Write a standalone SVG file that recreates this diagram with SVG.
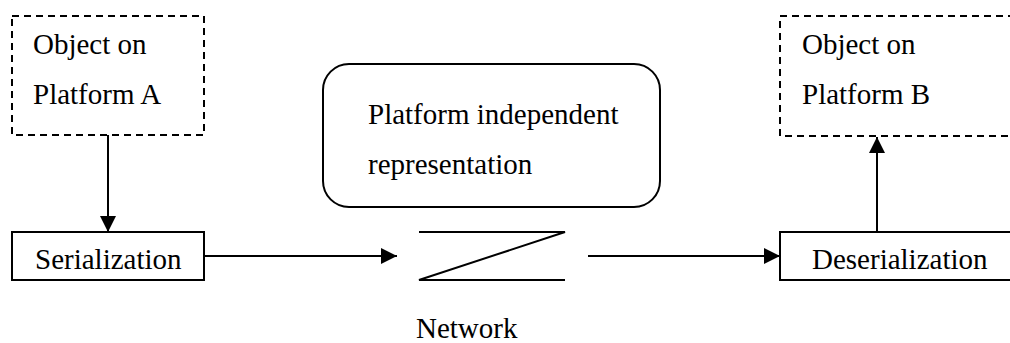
<svg xmlns="http://www.w3.org/2000/svg" width="1010" height="343" viewBox="0 0 1010 343">
<style>
.t{font-family:"Liberation Serif","Times New Roman",serif;font-size:29px;fill:#000}
.dash{fill:none;stroke:#000;stroke-width:2;stroke-dasharray:7,5}
.box{fill:#fff;stroke:#000;stroke-width:2}
.ln{fill:none;stroke:#000;stroke-width:2}
</style>
<defs>
<marker id="ah" viewBox="0 0 16 16" refX="16" refY="8" markerWidth="16" markerHeight="16" markerUnits="userSpaceOnUse" orient="auto">
<path d="M0,0 L16,8 L0,16 Z" fill="#000"/>
</marker>
</defs>
<rect width="1010" height="343" fill="#fff"/>
<g id="objA">
<rect class="dash" x="12" y="16" width="192" height="119"/>
<text class="t" x="33" y="54">Object on</text>
<text class="t" x="33" y="104">Platform A</text>
</g>
<g id="serialization">
<rect class="box" x="12" y="232" width="192" height="48"/>
<text class="t" x="35" y="269">Serialization</text>
</g>
<g id="representation">
<rect class="box" x="323" y="64" width="337" height="143" rx="26" ry="26"/>
<text class="t" x="368" y="124">Platform independent</text>
<text class="t" x="368" y="174">representation</text>
</g>
<g id="network">
<path class="ln" d="M419,232 H565 L419,280 H565"/>
<text class="t" x="416" y="338">Network</text>
</g>
<g id="deserialization">
<rect class="box" x="780" y="232" width="240" height="48"/>
<text class="t" x="812" y="269">Deserialization</text>
</g>
<g id="objB">
<rect class="dash" x="780" y="16" width="240" height="120"/>
<text class="t" x="802" y="54">Object on</text>
<text class="t" x="802" y="104">Platform B</text>
</g>
<g id="connectors">
<line class="ln" x1="108" y1="135" x2="108" y2="232" marker-end="url(#ah)"/>
<line class="ln" x1="204" y1="256" x2="397" y2="256" marker-end="url(#ah)"/>
<line class="ln" x1="588" y1="256" x2="780" y2="256" marker-end="url(#ah)"/>
<line class="ln" x1="877" y1="232" x2="877" y2="137" marker-end="url(#ah)"/>
</g>
</svg>
